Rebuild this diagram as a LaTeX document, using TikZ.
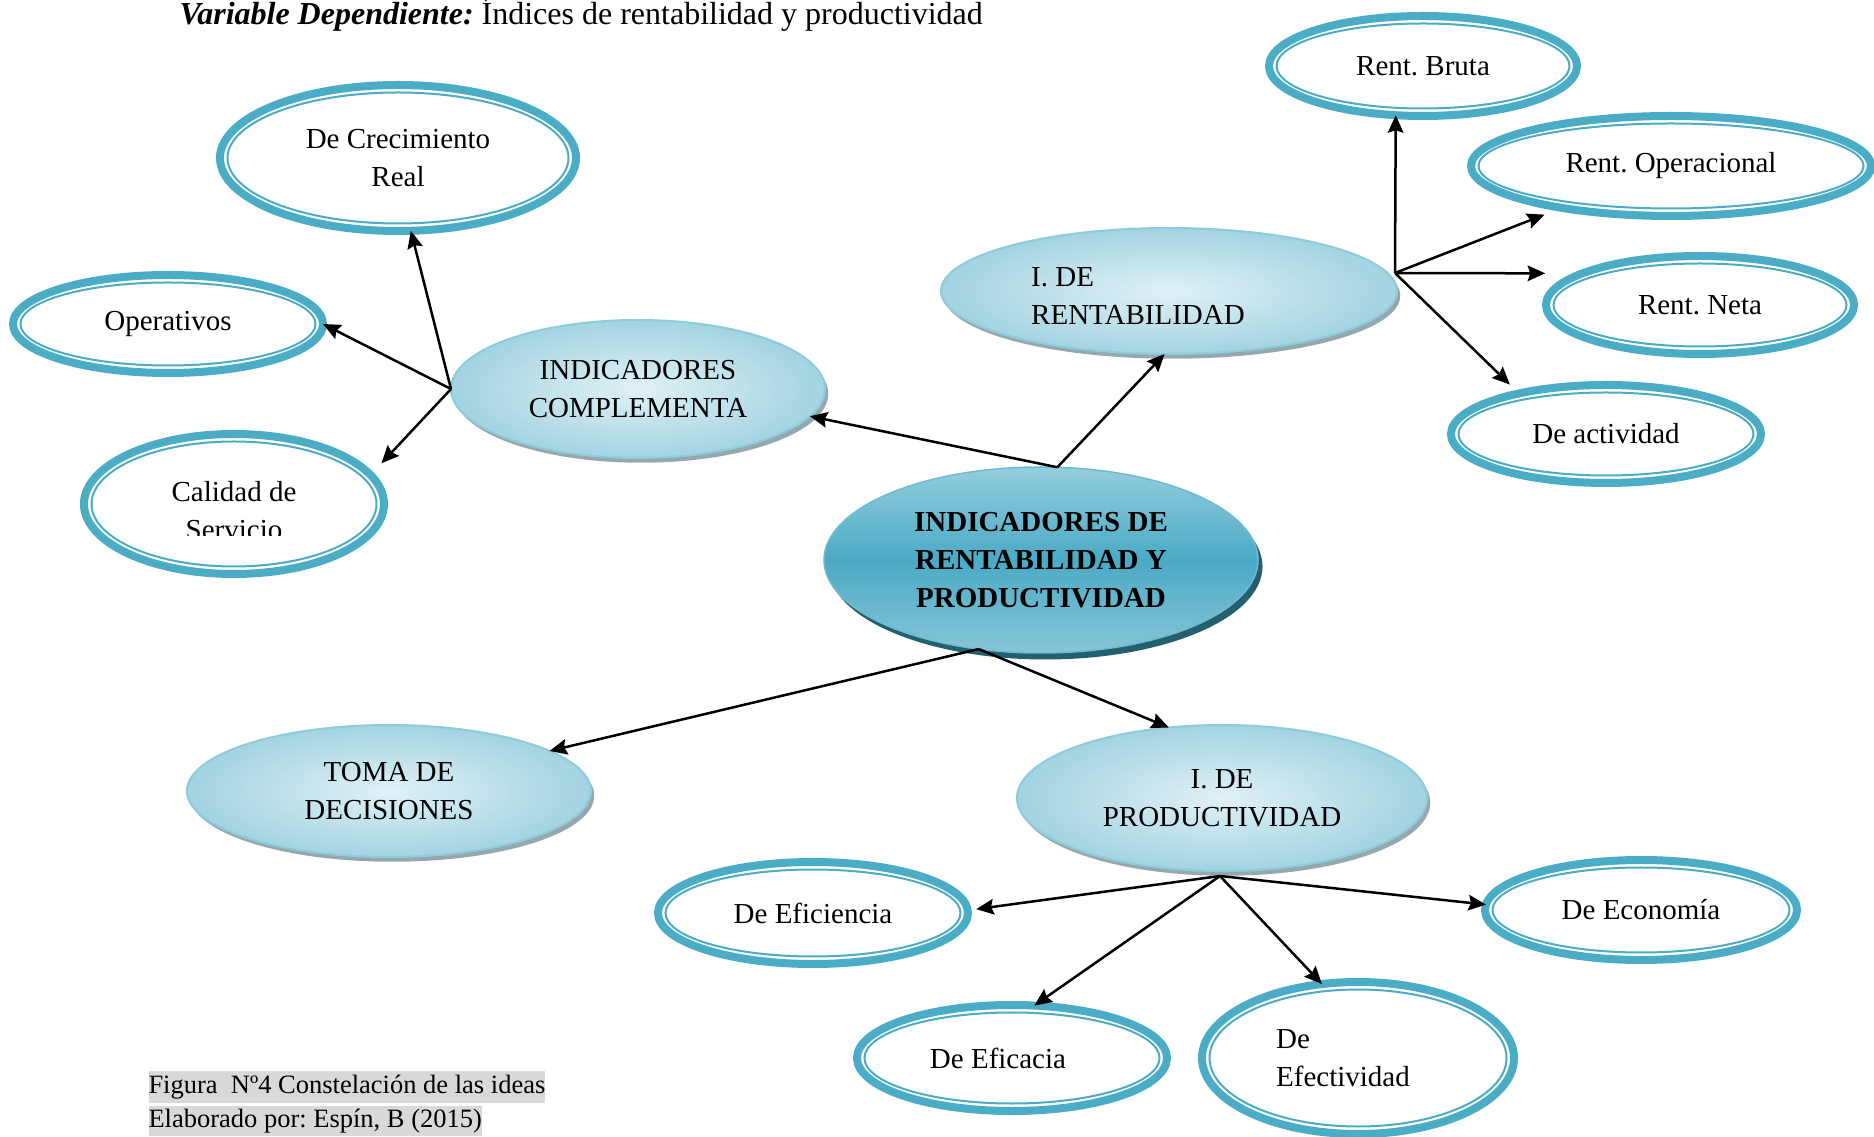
\documentclass[tikz,border=0pt]{standalone}
\usepackage{fontspec}
\setmainfont{Liberation Serif}
\usetikzlibrary{shapes.geometric,arrows.meta,shadows,calc}
\frenchspacing

\definecolor{ringblue}{HTML}{4BACC6}
\definecolor{softin}{HTML}{E0F1F6}
\definecolor{softout}{HTML}{A3D3E1}
\definecolor{softedge}{HTML}{8ECBDB}
\definecolor{softshadow}{HTML}{8A9FA6}
\definecolor{coretop}{HTML}{95CDDD}
\definecolor{coremid}{HTML}{4AAAC5}
\definecolor{corebot}{HTML}{88C5D6}
\definecolor{coreshadow}{HTML}{245F70}
\definecolor{capgray}{HTML}{D9D9D9}

\begin{document}
\begin{tikzpicture}[x=0.4pt, y=-0.4pt,
  lbl/.style={font=\fontsize{11.6}{15.2}\selectfont, align=center},
  oval/.style 2 args={ellipse, minimum width=#1*0.8pt, minimum height=#2*0.8pt,
    inner sep=0pt, outer sep=0pt},
  ring/.style 2 args={oval={#1}{#2}, lbl, draw=ringblue, line width=3.2pt, fill=white,
    path picture={\draw[ringblue, line width=0.8pt]
      let \p1=($(path picture bounding box.north east)-(path picture bounding box.center)$)
      in (path picture bounding box.center) ellipse ({\x1-3pt} and {\y1-3pt});}},
  soft/.style 2 args={oval={#1}{#2}, lbl, draw=softedge, line width=0.8pt,
    inner color=softin, outer color=softout,
    drop shadow={shadow xshift=1.3pt, shadow yshift=-1.9pt, fill=softshadow, opacity=0.9}},
  core/.style 2 args={oval={#1}{#2}, lbl, font=\fontsize{11.6}{15.2}\selectfont\bfseries,
    draw=coremid!80!white, line width=0.6pt,
    top color=coretop, bottom color=corebot, middle color=coremid,
    drop shadow={shadow xshift=1.8pt, shadow yshift=-2.6pt, fill=coreshadow, opacity=1}},
  link/.style={-{Stealth[length=7pt,width=6.2pt,inset=1pt]}, line width=1pt, black},
  caption/.style={anchor=north west, fill=capgray, inner sep=0pt,
    font=\fontsize{10.6}{12}\selectfont},
]
\useasboundingbox (0,0) rectangle (1874,1137);

% heading
\node[anchor=base west, inner sep=0pt, font=\fontsize{12.8}{15}\selectfont] (title) at (179,25)
  {\textbf{\textit{Variable Dependiente:}} Índices de rentabilidad y productividad};

% central idea
\node[core={217}{93}] (cen) at (1041,560) {INDICADORES DE\\RENTABILIDAD Y\\PRODUCTIVIDAD};

% second level
\node[soft={187}{69}] (comp) at (638,389) {INDICADORES\\COMPLEMENTA};
\node[soft={228}{63}, label={[lbl, align=left, xshift=-12.4pt, yshift=-2pt]center:I. DE\\RENTABILIDAD}] (rent) at (1169,291) {};
\node[soft={202}{66}] (toma) at (389,791) {TOMA DE\\DECISIONES};
\node[soft={205}{73}] (prod) at (1222,798) {I. DE\\PRODUCTIVIDAD};

% leaves
\node[ring={178}{73}] (cre) at (398,158) {De Crecimiento\\Real};
\node[ring={155}{49}] (ope) at (168,324) {Operativos};
\node[ring={150}{70}] (cal) at (234,504) {};
\begin{scope}
  \clip (60,430) rectangle (400,536);
  \node[lbl] (caltext) at (234,511) {Calidad de\\Servicio};
\end{scope}
\node[ring={154}{50}] (rbr) at (1423,66) {Rent. Bruta};
\node[ring={200}{50}] (rop) at (1671,166) {Rent. Operacional};
\node[ring={154}{49}] (rne) at (1700,305) {Rent. Neta};
\node[ring={155}{49}] (act) at (1606,434) {De actividad};
\node[ring={155}{51}] (efi) at (813,913) {De Eficiencia};
\node[ring={156}{50}] (eco) at (1641,910) {De Economía};
\node[ring={155}{53}, label={[lbl, xshift=-5.6pt]center:De Eficacia}] (efc) at (1012,1058) {};
\node[ring={156}{76}, label={[lbl, align=left, xshift=-6pt]center:De\\Efectividad}] (efe) at (1358,1058) {};

% branching points
\coordinate (ctop) at (cen.80);
\coordinate (cbot) at (cen.235);
\coordinate (rhub) at ([shift={(-2,-18)}]rent.east);
\coordinate (phub) at ([shift={(-2,5)}]prod.south);

% connectors
\draw[link] (ctop) -- (rent.266);
\draw[link] (ctop) -- (comp.351);
\draw[link] (cbot) -- (toma.14);
\draw[link] (cbot) -- (prod.127);
\draw[link] (comp.west) -- (cre.280);
\draw[link] (comp.west) -- (ope.east);
\draw[link, shorten >=6.4pt] (comp.west) -- (cal.12);
\draw[link] (rhub) -- (rbr.241);
\draw[link, shorten >=7.4pt] (rhub) -- (rop.201);
\draw[link, shorten >=14.8pt] (rhub) -- (rne.165);
\draw[link, shorten >=5.1pt] (rhub) -- (act.155);
\draw[link, shorten >=3.4pt] (phub) -- (efi.1);
\draw[link] (phub) -- (eco.178);
\draw[link] (phub) -- (efc.67);
\draw[link] (phub) -- (efe.116);

% figure caption
\node[caption, text height=9.2pt, text depth=3.6pt] (fig) at (148,1070) {Figura\ \ Nº4 Constelación de las ideas};
\node[caption, text height=8.8pt, text depth=3.2pt] (auth) at (148,1105) {Elaborado por: Espín, B (2015)};
\end{tikzpicture}
\end{document}
